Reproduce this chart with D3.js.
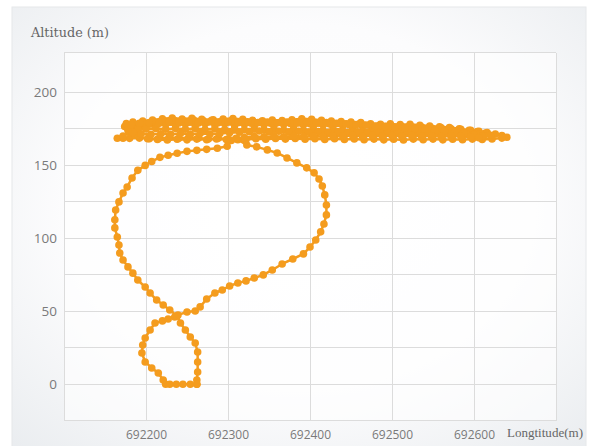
<!DOCTYPE html>
<html>
<head>
<meta charset="utf-8">
<script src="https://cdn.jsdelivr.net/npm/d3@7"></script>
<style>
  html, body { margin: 0; padding: 0; background: #ffffff; }
  svg { display: block; }
</style>
</head>
<body>
<svg id="chart" width="590" height="446"></svg>
<script>
// ---------------- DATA ----------------
const xTicks = [692100, 692200, 692300, 692400, 692500, 692600, 692700];
const xTickLabels = [692200, 692300, 692400, 692500, 692600];
const yGridValues = [-25, 0, 25, 50, 75, 100, 125, 150, 175, 200];
const yTickLabels = [0, 50, 100, 150, 200];
const xTitle = "Longtitude(m)";
const yTitle = "Altitude (m)";

// take-off, small loop, climb to the big loop and up to cruise level  [longitude, altitude]
const climb = [
  [692262,0],[692254,0],[692245,0],[692237,0],[692229,0],[692224,0],
  [692221,2.9],[692215,7.7],[692207,11.2],[692199,15.3],[692195,21.4],[692196,26.9],[692199,31.7],
  [692205,37.2],[692211,42],[692220,43.4],[692227,44.7],[692235,46.1],[692239,47.5],[692250,49.5],
  [692260,50.2],[692266,53],[692274,58.4],[692284,62.5],[692293,64.6],[692302,67.3],[692312,69.4],
  [692322,70.8],[692332,72.8],[692343,74.9],[692354,78.3],[692366,82.4],[692379,85.8],[692392,89.3],
  [692400,94],[692407,98.8],[692413,104.4],[692417,109.8],[692420,116],[692420,122.8],[692418,129.7],
  [692415,135.8],[692411,140.6],[692405,144.8],[692396,148.2],[692384,151.6],[692372,155],[692360,158.4],
  [692348,160.5],[692335,162.6],[692323,163.9],[692312,167.5]
];

// cruise passes back and forth at ~165-183 m
const cruise = [
  // pass A (west, low)
  [692300,168],[692288,168.5],[692276,168],[692264,168.6],[692252,169],[692240,168.4],[692228,168.8],
  [692216,168.5],[692204,168.2],[692192,168.6],[692180,168.4],[692172,168.5],[692165,168.5],
  // pass B (east)
  [692172,170],[692180,172.5],[692190,175],[692200,176.5],[692212,177],[692224,178],[692236,177.5],
  [692248,178.2],[692260,177.6],[692272,178.5],[692284,177.8],[692296,178.4],[692308,177.6],[692320,178],
  [692332,177.2],[692344,177.9],[692356,177.4],[692368,178],[692380,177.3],[692392,177.7],[692404,176.9],
  [692416,177.5],[692428,176.8],[692440,177.2],[692452,176.5],[692464,177],[692476,176.3],[692488,176.7],
  [692500,176],[692512,176.4],[692524,175.8],[692536,176.1],[692548,175.4],[692560,175.7],[692572,175],
  [692584,174.6],[692596,174],[692606,173.2],[692616,172.4],[692626,171.4],[692634,170.3],[692640,169.2],
  // pass C (west, lowest)
  [692634,168.6],[692622,168],[692610,167.6],[692598,167.9],[692586,167.5],[692574,167.8],[692562,167.4],
  [692550,167.9],[692538,167.5],[692526,167.9],[692514,167.3],[692502,167.8],[692490,167.4],[692478,167.9],
  [692466,167.5],[692454,168],[692442,167.6],[692430,168.1],[692418,167.7],[692406,168.2],[692394,167.8],
  [692382,168.3],[692370,167.9],[692358,168.3],[692346,167.8],[692334,168.2],[692322,167.7],[692310,168.1],
  [692298,167.6],[692286,168],[692274,167.5],[692262,167.9],[692250,167.4],[692238,167.8],[692226,167.3],
  [692214,167.7],[692202,168.2],[692192,169.5],[692185,171.5],[692182,173.5],
  // pass D (east, top)
  [692188,176],[692198,178],[692210,179.5],[692222,180.3],[692234,180.8],[692246,180.2],[692258,181],
  [692270,180.5],[692282,181.2],[692294,181.6],[692306,182],[692318,181.4],[692330,180.8],[692342,180.5],
  [692354,181],[692366,180.6],[692378,181.2],[692390,181.8],[692402,181.5],[692414,180.8],[692426,180.2],
  [692438,180],[692450,179.6],[692462,179.2],[692474,178.4],[692486,178],[692498,178.3],[692510,177.8],
  [692522,178],[692534,177.4],[692546,176.8],[692558,176.4],[692570,175.8],[692582,175],[692594,174],
  [692604,173],[692614,172],
  // pass E (west, middle)
  [692620,170.5],[692608,171.5],[692596,172.2],[692584,172.8],[692572,173.2],[692560,172.7],[692548,173.4],
  [692536,173],[692524,173.6],[692512,173.1],[692500,173.8],[692488,173.3],[692476,174],[692464,173.5],
  [692452,174.2],[692440,173.6],[692428,174.3],[692416,173.8],[692404,174.5],[692392,174],[692380,174.6],
  [692368,174.1],[692356,174.7],[692344,174.2],[692332,174.8],[692320,174.3],[692308,174.9],[692296,174.4],
  [692284,175],[692272,174.5],[692260,175.1],[692248,174.6],[692236,175.2],[692224,174.7],[692212,175.2],
  [692200,174.8],[692190,175],[692180,175.4],[692174,176.5],
  // pass F (east, upper)
  [692176,178.5],[692184,179.5],[692196,180.2],[692208,181],[692220,181.8],[692232,182.4],[692244,181.6],
  [692256,182.2],[692268,181.4],[692280,180.8],[692292,179.8],[692304,180.5],[692316,179.6],[692328,179],
  [692340,179.6],[692352,178.8],[692364,179.3],[692376,178.6],[692388,179.1],[692400,178.4],[692412,178.9],
  [692424,178.2],[692436,178.7],[692448,177.8],[692460,178.2],[692472,177.4],[692484,177],[692496,176.4],
  [692508,176],[692520,175.2],[692532,174.6],[692544,174.2],[692556,173.6],[692568,173],[692580,172.2],
  [692592,171.4],[692604,170.6],[692612,170],
  // pass H (west, ~172)
  [692600,171],[692590,171.8],[692578,172.3],[692566,172],[692554,172.5],[692542,172.1],[692530,172.6],
  [692518,172.2],[692506,172.7],[692494,172.3],[692482,172.8],[692470,172.4],[692458,172.9],[692446,172.5],
  [692434,173],[692422,172.6],[692410,173.1],[692398,172.7],[692386,173.2],[692374,172.8],[692362,173.3],
  [692350,172.9],[692338,173.4],[692326,173],[692314,172.6],[692302,172.2],[692290,171.8],[692278,171.4],
  [692266,171.8],[692254,171.3],[692242,171.7],[692230,171.2],[692218,171.6],[692206,171.2],[692194,171.5],
  [692184,172.5],[692178,174],
  // pass I (east, ~179)
  [692182,177.5],[692192,178.8],[692204,179.3],[692216,178.8],[692228,179.4],[692240,178.9],[692252,179.5],
  [692264,179],[692276,179.6],[692288,179.1],[692300,179.6],[692312,179.1],[692324,179.7],[692336,179.2],
  [692348,179.6],[692360,179.1],[692372,179.5],[692384,179],[692396,179.4],[692408,179],[692420,179.3],
  [692432,178.7],[692444,178.4],[692456,177.8],[692468,177.5],[692480,176.9],[692492,176.6],[692504,176],
  [692516,175.6],[692528,175],[692540,174.6],[692552,174],[692564,173.4],[692576,172.6],[692588,171.8],
  [692600,170.8],[692610,169.8],
  // pass G (west, ~170, back toward the loop)
  [692606,168.8],[692596,169.4],[692584,169.8],[692572,170.1],[692560,169.7],[692548,170.2],[692536,169.8],
  [692524,170.3],[692512,169.9],[692500,170.4],[692488,170],[692476,170.4],[692464,169.9],[692452,170.3],
  [692440,169.8],[692428,170.2],[692416,169.7],[692404,170.1],[692392,169.6],[692380,170],[692368,169.5],
  [692356,169.9],[692344,169.4],[692332,169.6],[692320,169],[692310,168.4],[692304,167]
];

// descent around the big loop and back through the small loop to the ground
const descent = [
  [692299,163],[692287,161.6],[692274,160.9],[692262,160.2],[692250,159.5],[692238,158.2],[692227,156.8],
  [692217,155.4],[692207,152.6],[692199,149.9],[692190,146.5],[692183,141.3],[692177,135.1],[692172,131],
  [692167,124.9],[692163,119.4],[692162,112.6],[692162,107.1],[692165,100.9],[692167,95.4],[692168,89.9],
  [692172,85.1],[692178,80.4],[692184,76.1],[692190,71.4],[692199,66.6],[692205,62.5],[692213,57.7],
  [692221,54.3],[692229,50.9],[692238,46.8],[692242,42],[692248,37.2],[692254,32.4],[692260,28.3],
  [692263,22.1],[692263,15.3],[692263,8.4],[692262,2.9],[692262,0]
];

// ---------------- DRAW ----------------
const svg = d3.select("#chart");
const orange = "#f49c1e";

const x = d3.scaleLinear().domain([692100, 692700]).range([64, 556]);
const y = d3.scaleLinear().domain([-25, 227]).range([420.8, 52.8]);

// panel background
const defs = svg.append("defs");
const rg = defs.append("radialGradient").attr("id", "bg")
  .attr("cx", "50%").attr("cy", "45%").attr("r", "75%");
rg.append("stop").attr("offset", "0%").attr("stop-color", "#ffffff");
rg.append("stop").attr("offset", "55%").attr("stop-color", "#fcfcfd");
rg.append("stop").attr("offset", "100%").attr("stop-color", "#e9ecef");

svg.append("rect").attr("x", 12).attr("y", 7).attr("width", 574).attr("height", 445)
  .attr("fill", "url(#bg)").attr("stroke", "#e6e8ea").attr("stroke-width", 1);

// plot area
svg.append("rect").attr("x", x(692100)).attr("y", y(227))
  .attr("width", x(692700) - x(692100)).attr("height", y(-25) - y(227))
  .attr("fill", "#ffffff").attr("fill-opacity", 0.6);

const grid = svg.append("g").attr("stroke", "#dcdcdc").attr("stroke-width", 1).attr("shape-rendering", "crispEdges");
grid.selectAll("line.v").data(xTicks).join("line").attr("class", "v")
  .attr("x1", d => x(d)).attr("x2", d => x(d)).attr("y1", y(227)).attr("y2", y(-25));
grid.selectAll("line.h").data(yGridValues.concat([227])).join("line").attr("class", "h")
  .attr("x1", x(692100)).attr("x2", x(692700)).attr("y1", d => y(d)).attr("y2", d => y(d));

// axes labels
const xAxis = d3.axisBottom(x).tickValues(xTickLabels).tickSize(0).tickPadding(10).tickFormat(d3.format("d"));
const gx = svg.append("g").attr("transform", `translate(0,${y(-25)})`).call(xAxis);
gx.select(".domain").remove();
gx.selectAll("text").attr("font-family", "'Open Sans', sans-serif").attr("font-size", "12px").attr("fill", "#7a7a7a");

const yAxis = d3.axisLeft(y).tickValues(yTickLabels).tickSize(0).tickPadding(7).tickFormat(d3.format("d"));
const gy = svg.append("g").attr("transform", `translate(${x(692100)},0)`).call(yAxis);
gy.select(".domain").remove();
gy.selectAll("text").attr("font-family", "'Open Sans', sans-serif").attr("font-size", "13.5px").attr("fill", "#7a7a7a");

svg.append("text").attr("x", 31).attr("y", 37).text(yTitle)
  .attr("font-family", "'DejaVu Serif', serif").attr("font-size", "13px").attr("fill", "#666")
  .attr("textLength", 78).attr("lengthAdjust", "spacingAndGlyphs");
svg.append("text").attr("x", 507).attr("y", 437).text(xTitle)
  .attr("font-family", "'Liberation Serif', serif").attr("font-size", "13px").attr("fill", "#666")
  .attr("textLength", 76).attr("lengthAdjust", "spacingAndGlyphs");

// track
const track = climb.concat(cruise, descent);
const line = d3.line().x(d => x(d[0])).y(d => y(d[1]));
svg.append("path").datum(track).attr("d", line)
  .attr("fill", "none").attr("stroke", orange).attr("stroke-width", 2.5).attr("stroke-linejoin", "round");
svg.append("g").selectAll("circle").data(track).join("circle")
  .attr("cx", d => x(d[0])).attr("cy", d => y(d[1])).attr("r", 3.8).attr("fill", orange);
</script>
</body>
</html>
